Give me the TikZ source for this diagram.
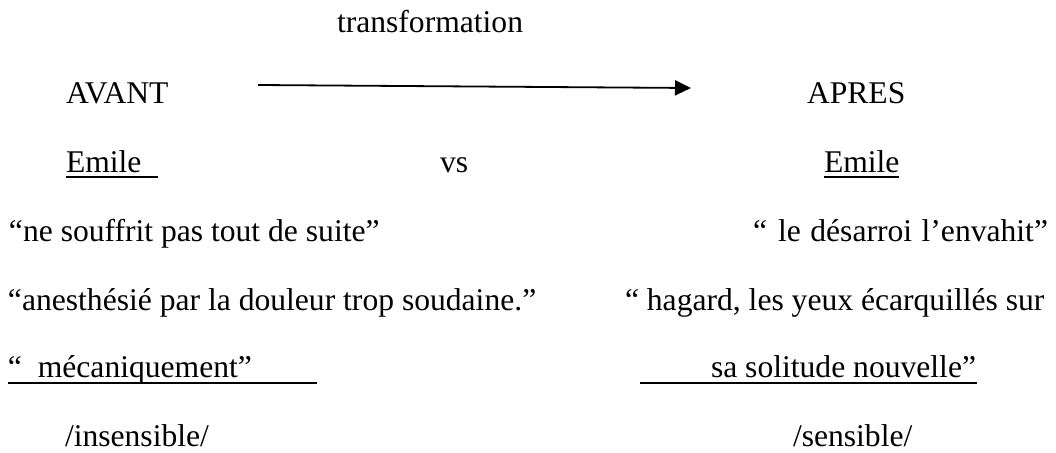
\documentclass[tikz,border=0pt]{standalone}
\usepackage{fontspec}
\setmainfont{Liberation Serif}
\usetikzlibrary{arrows.meta}
\begin{document}
\begin{tikzpicture}[x=1pt,y=-1pt,
  txt/.style={anchor=base west,inner sep=0pt,outer sep=0pt,font=\fontsize{31.6}{38}\selectfont},
  uline/.style={line width=2pt},
  trans/.style={line width=1.8pt,-{Triangle[length=16pt,width=15pt]}}]
\useasboundingbox (0,0) rectangle (1056,452);
\node[txt] (tr) at (337,33) {transformation};
\node[txt] (avant) at (66,103) {AVANT};
\node[txt] (apres) at (807,103) {APRES};
\node[txt] (emL) at (66,172) {Emile};
\node[txt] (vs) at (440,172) {vs};
\node[txt] (emR) at (824,172) {Emile};
\node[txt] (l1) at (9,241) {“ne souffrit pas tout de suite”};
\node[txt] (r1) at (753,241) {“\hspace{0.35em}le\hspace{0.3em}désarroi\hspace{0.3em}l’envahit”};
\node[txt] (l2) at (8,310) {“anesthésié par la douleur trop soudaine.”};
\node[txt] (r2) at (625,310) {“ hagard, les yeux écarquillés sur};
\node[txt] (l3) at (8,377) {“\ \ mécaniquement”};
\node[txt] (r3) at (711,377) {sa solitude nouvelle”};
\node[txt] (l4) at (65,446) {/insensible/};
\node[txt] (r4) at (793,446) {/sensible/};
\coordinate (a0) at (258,85);
\coordinate (a1) at (691,88);
\draw[trans] (a0) -- (a1);
\coordinate (u1a) at (66,177); \coordinate (u1b) at (158,177);
\coordinate (u2a) at (824,177); \coordinate (u2b) at (899,177);
\coordinate (u3a) at (8,383); \coordinate (u3b) at (317,383);
\coordinate (u4a) at (640,383); \coordinate (u4b) at (977,383);
\draw[uline] (u1a) -- (u1b);
\draw[uline] (u2a) -- (u2b);
\draw[uline] (u3a) -- (u3b);
\draw[uline] (u4a) -- (u4b);
\end{tikzpicture}
\end{document}
